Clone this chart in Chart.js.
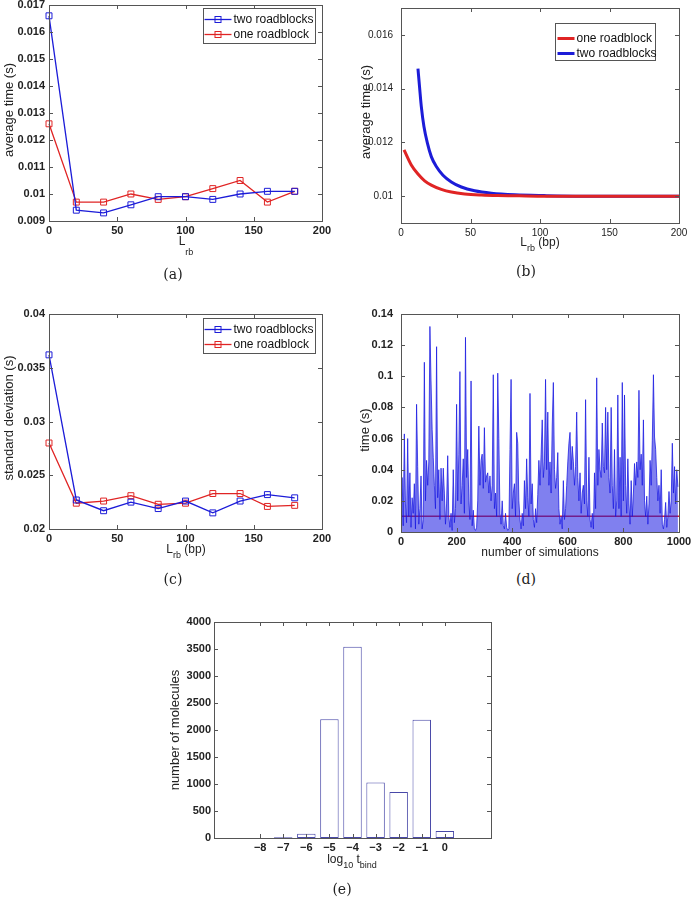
<!DOCTYPE html>
<html>
<head>
<meta charset="utf-8">
<script src="https://cdn.jsdelivr.net/npm/chart.js@4.4.0/dist/chart.umd.min.js"></script>
<style>
  body { margin: 0; background: #fff; width: 692px; height: 898px; position: relative; overflow: hidden;
         font-family: "Liberation Sans", Arial, sans-serif; }
  .panel { position: absolute; }
  .lbl { position: absolute; transform: translate(-50%, -50%); white-space: nowrap; font-size: 12px; line-height: 1; color: #222; }
  .lbl.v { transform: translate(-50%, -50%) rotate(-90deg); font-size: 13px; }
  .lbl sub { font-size: 9px; vertical-align: -5px; line-height: 0; }
  .cap { position: absolute; transform: translate(-50%, -50%); font-family: "DejaVu Serif", serif; font-size: 14px; color: #222; }
</style>
</head>
<body>

<div class="panel" style="left:0px;top:-15px;width:340px;height:268px"><canvas id="chartA"></canvas></div>
<div class="panel" style="left:350px;top:-12px;width:350px;height:265px"><canvas id="chartB"></canvas></div>
<div class="panel" style="left:0px;top:294px;width:340px;height:268px"><canvas id="chartC"></canvas></div>
<div class="panel" style="left:350px;top:294px;width:350px;height:268px"><canvas id="chartD"></canvas></div>
<div class="panel" style="left:160px;top:602px;width:345px;height:268px"><canvas id="chartE"></canvas></div>

<!-- axis titles -->
<div class="lbl v" style="left:8px;top:110px">average time (s)</div>
<div class="lbl" style="left:186px;top:243px">L<sub style="vertical-align:-10px">rb</sub></div>

<div class="lbl v" style="left:365px;top:112px">average time (s)</div>
<div class="lbl" style="left:540px;top:242px">L<sub>rb</sub> (bp)</div>

<div class="lbl v" style="left:8px;top:418px">standard deviation (s)</div>
<div class="lbl" style="left:186px;top:549px">L<sub>rb</sub> (bp)</div>

<div class="lbl v" style="left:364px;top:430px">time (s)</div>
<div class="lbl" style="left:540px;top:552px">number of simulations</div>

<div class="lbl v" style="left:174px;top:730px">number of molecules</div>
<div class="lbl" style="left:352px;top:859px">log<sub>10</sub> t<sub>bind</sub></div>

<!-- captions -->
<div class="cap" style="left:173px;top:274px">(a)</div>
<div class="cap" style="left:526px;top:271px">(b)</div>
<div class="cap" style="left:173px;top:579px">(c)</div>
<div class="cap" style="left:526px;top:579px">(d)</div>
<div class="cap" style="left:342px;top:889px">(e)</div>

<script>
const boxColor = '#555';
const blue = '#1c1cd8';
const red = '#e02424';

// (a) average time, simulated, against roadblock length
const aLengths = [0, 20, 40, 60, 80, 100, 120, 140, 160, 180];
const aTwo = [0.0166, 0.0094, 0.0093, 0.0096, 0.0099, 0.0099, 0.0098, 0.0100, 0.0101, 0.0101];
const aOne = [0.0126, 0.0097, 0.0097, 0.0100, 0.0098, 0.0099, 0.0102, 0.0105, 0.0097, 0.0101];
const aTicksX = [0, 50, 100, 150, 200];
const aTicksY = [0.009, 0.01, 0.011, 0.012, 0.013, 0.014, 0.015, 0.016, 0.017];

// (b) average time, analytic curves
const bOneX = [2.2, 7.4, 12.2, 17, 21.8, 29, 36.2, 45.8, 57.8, 69.8, 85, 100, 130, 160, 200];
const bOneY = [0.01172, 0.01116, 0.01082, 0.01057, 0.01041, 0.01025, 0.01015, 0.01008, 0.01004, 0.01002, 0.01001, 0.0100, 0.0100, 0.0100, 0.0100];
const bTwoX = [12.2, 13.4, 14.6, 16.5, 19, 21.8, 25.4, 30.2, 36.2, 43.4, 53, 65, 81.8, 103, 130, 160, 200];
const bTwoY = [0.01474, 0.01403, 0.01334, 0.01259, 0.01197, 0.01147, 0.01110, 0.01078, 0.01053, 0.01034, 0.01020, 0.01011, 0.01005, 0.01002, 0.0100, 0.0100, 0.0100];
const bTicksX = [0, 50, 100, 150, 200];
const bTicksY = [0.01, 0.012, 0.014, 0.016];

// (c) standard deviation against roadblock length
const cLengths = [0, 20, 40, 60, 80, 100, 120, 140, 160, 180];
const cTwo = [0.0362, 0.0227, 0.0217, 0.0225, 0.0219, 0.0226, 0.0215, 0.0226, 0.0232, 0.0229];
const cOne = [0.0280, 0.0224, 0.0226, 0.0231, 0.0223, 0.0224, 0.0233, 0.0233, 0.0221, 0.0222];
const cTicksX = [0, 50, 100, 150, 200];
const cTicksY = [0.02, 0.025, 0.03, 0.035, 0.04];

// (d) time of each simulation, one value per 4 simulations
const dStep = 4;
const dTimes = [
  0.012, 0.035, 0.004, 0.063, 0.018, 0.006, 0.060, 0.010, 0.038, 0.003, 0.022, 0.012, 0.031, 0.002, 0.082, 0.042, 0.005, 0.015, 0.036, 0.002, 0.008, 0.109, 0.020, 0.046, 0.030,
  0.045, 0.132, 0.097, 0.066, 0.048, 0.030, 0.015, 0.119, 0.022, 0.040, 0.008, 0.041, 0.020, 0.041, 0.025, 0.005, 0.018, 0.049, 0.010, 0.003, 0.012, 0.001, 0.040, 0.006, 0.015,
  0.082, 0.020, 0.050, 0.103, 0.018, 0.030, 0.047, 0.012, 0.125, 0.035, 0.053, 0.020, 0.008, 0.097, 0.004, 0.014, 0.002, 0.001, 0.003, 0.020, 0.068, 0.030, 0.046, 0.050, 0.028,
  0.067, 0.032, 0.036, 0.038, 0.025, 0.036, 0.020, 0.030, 0.101, 0.015, 0.025, 0.010, 0.102, 0.060, 0.012, 0.005, 0.020, 0.004, 0.002, 0.012, 0.003, 0.001, 0.002, 0.053, 0.098,
  0.015, 0.025, 0.031, 0.010, 0.064, 0.057, 0.020, 0.008, 0.002, 0.012, 0.004, 0.033, 0.015, 0.047, 0.022, 0.010, 0.089, 0.018, 0.031, 0.008, 0.003, 0.015, 0.006, 0.024, 0.046,
  0.030, 0.050, 0.072, 0.035, 0.045, 0.098, 0.040, 0.077, 0.030, 0.045, 0.025, 0.068, 0.096, 0.040, 0.028, 0.035, 0.051, 0.015, 0.005, 0.010, 0.002, 0.033, 0.008, 0.015, 0.030,
  0.045, 0.057, 0.064, 0.040, 0.055, 0.045, 0.030, 0.042, 0.077, 0.035, 0.020, 0.038, 0.012, 0.025, 0.030, 0.018, 0.085, 0.020, 0.010, 0.048, 0.008, 0.003, 0.012, 0.002, 0.038,
  0.015, 0.099, 0.030, 0.053, 0.040, 0.035, 0.070, 0.042, 0.038, 0.080, 0.040, 0.077, 0.035, 0.025, 0.080, 0.030, 0.015, 0.053, 0.010, 0.020, 0.088, 0.015, 0.048, 0.010, 0.096,
  0.020, 0.088, 0.030, 0.012, 0.047, 0.018, 0.005, 0.033, 0.010, 0.025, 0.044, 0.030, 0.045, 0.035, 0.091, 0.040, 0.050, 0.030, 0.072, 0.020, 0.010, 0.023, 0.005, 0.018, 0.046,
  0.030, 0.059, 0.101, 0.061, 0.053, 0.035, 0.020, 0.030, 0.012, 0.040, 0.005, 0.002, 0.008, 0.019, 0.003, 0.010, 0.026, 0.012, 0.020, 0.057, 0.025, 0.042, 0.018, 0.040, 0.029
];
const dMean = 0.0101;
const dSimRange = [0, 1000];
const dTicksX = [0, 200, 400, 600, 800, 1000];
const dTicksY = [0, 0.02, 0.04, 0.06, 0.08, 0.1, 0.12, 0.14];

// (e) histogram of binding times
const eBins = [-8, -7, -6, -5, -4, -3, -2, -1, 0];
const eCounts = [0, 15, 80, 2200, 3540, 1030, 850, 2190, 130];
const eTicksX = [-8, -7, -6, -5, -4, -3, -2, -1, 0];
const eTicksY = [0, 500, 1000, 1500, 2000, 2500, 3000, 3500, 4000];

Chart.defaults.font.family = '"Liberation Sans", Arial, sans-serif';
Chart.defaults.font.size = 11;
Chart.defaults.font.weight = 'bold';
Chart.defaults.color = '#222';

// MATLAB style box with inward ticks on all four sides
const matlabBox = {
    id: 'matlabBox',
    afterDatasetsDraw(chart) {
        const { ctx, chartArea: a, scales: { x, y } } = chart;
        const len = 4;
        ctx.save();
        ctx.strokeStyle = boxColor;
        ctx.lineWidth = 1;
        ctx.beginPath();
        x.ticks.forEach(t => {
            const px = Math.round(x.getPixelForValue(t.value)) + 0.5;
            ctx.moveTo(px, a.bottom); ctx.lineTo(px, a.bottom - len);
            ctx.moveTo(px, a.top); ctx.lineTo(px, a.top + len);
        });
        y.ticks.forEach(t => {
            const py = Math.round(y.getPixelForValue(t.value)) + 0.5;
            ctx.moveTo(a.left, py); ctx.lineTo(a.left + len, py);
            ctx.moveTo(a.right, py); ctx.lineTo(a.right - len, py);
        });
        ctx.stroke();
        ctx.strokeRect(Math.round(a.left) + 0.5, Math.round(a.top) + 0.5,
                       Math.round(a.right - a.left), Math.round(a.bottom - a.top));
        ctx.restore();
    }
};

// legend drawn inside the axes, top right
const boxLegend = {
    id: 'boxLegend',
    afterDraw(chart, args, opts) {
        if (!opts.items) return;
        const { ctx, chartArea: a } = chart;
        const left = Math.round(a.right - opts.right - opts.width) + 0.5;
        const top = Math.round(a.top + opts.top) + 0.5;
        ctx.save();
        ctx.fillStyle = '#fff';
        ctx.fillRect(left, top, opts.width, opts.height);
        ctx.strokeStyle = boxColor;
        ctx.lineWidth = 1;
        ctx.strokeRect(left, top, opts.width, opts.height);
        ctx.font = '12px "Liberation Sans", Arial, sans-serif';
        ctx.textBaseline = 'middle';
        opts.items.forEach((it, i) => {
            const cy = top + opts.firstRow + i * opts.rowGap;
            ctx.strokeStyle = it.color;
            ctx.lineWidth = it.width;
            ctx.beginPath();
            ctx.moveTo(left + opts.lineFrom, cy);
            ctx.lineTo(left + opts.lineTo, cy);
            ctx.stroke();
            if (it.marker) {
                const mx = left + (opts.lineFrom + opts.lineTo) / 2;
                ctx.lineWidth = 1;
                ctx.strokeRect(mx - 3, cy - 3, 6, 6);
            }
            ctx.fillStyle = '#111';
            ctx.fillText(it.text, left + opts.textX, cy);
        });
        ctx.restore();
    }
};

function fmt(v) {
    return v < 0 ? '\u2212' + (-v) : String(v);
}

function axes(p) {
    const tickFont = p.tickFont || {};
    return {
        responsive: true,
        maintainAspectRatio: false,
        animation: false,
        events: [],
        layout: { padding: { top: p.padTop, right: p.padRight, left: 0, bottom: 0 } },
        plugins: {
            legend: { display: false },
            tooltip: { enabled: false },
            boxLegend: p.legend || {}
        },
        scales: {
            x: {
                type: 'linear', min: p.xMin, max: p.xMax, offset: false,
                afterBuildTicks: s => { s.ticks = p.xTicks.map(v => ({ value: v })); },
                afterFit: s => { s.height = p.xHeight; },
                grid: { display: false, drawTicks: false }, border: { display: false },
                ticks: { padding: p.xPad, autoSkip: false, maxRotation: 0, callback: fmt, font: tickFont }
            },
            y: {
                type: 'linear', min: p.yMin, max: p.yMax,
                afterBuildTicks: s => { s.ticks = p.yTicks.map(v => ({ value: v })); },
                afterFit: s => { s.width = p.yWidth; },
                grid: { display: false, drawTicks: false }, border: { display: false },
                ticks: { padding: p.yPad, autoSkip: false, callback: fmt, font: tickFont }
            }
        }
    };
}

function markerLine(label, xs, ys, color) {
    return {
        label: label,
        data: xs.map((x, i) => ({ x: x, y: ys[i] })),
        borderColor: color, borderWidth: 1.3,
        pointStyle: 'rect', pointRadius: 4.2,
        pointBorderColor: color, pointBackgroundColor: 'rgba(0,0,0,0)', pointBorderWidth: 1,
        tension: 0, clip: false
    };
}

const markerLegend = {
    width: 112, height: 35, right: 7, top: 3, firstRow: 11, rowGap: 15,
    lineFrom: 1, lineTo: 28, textX: 30,
    items: [
        { text: 'two roadblocks', color: blue, width: 1.3, marker: true },
        { text: 'one roadblock', color: red, width: 1.3, marker: true }
    ]
};

new Chart(document.getElementById('chartA'), {
    type: 'line',
    data: { datasets: [markerLine('two roadblocks', aLengths, aTwo, blue), markerLine('one roadblock', aLengths, aOne, red)] },
    options: axes({ padTop: 20, padRight: 18, yWidth: 49, xHeight: 32, xPad: 3, yPad: 4,
                    xMin: 0, xMax: 200, yMin: 0.009, yMax: 0.017, xTicks: aTicksX, yTicks: aTicksY,
                    legend: markerLegend }),
    plugins: [matlabBox, boxLegend]
});

new Chart(document.getElementById('chartB'), {
    type: 'line',
    data: {
        datasets: [
            { label: 'one roadblock', data: bOneX.map((x, i) => ({ x: x, y: bOneY[i] })),
              borderColor: red, borderWidth: 3, pointRadius: 0, cubicInterpolationMode: 'monotone' },
            { label: 'two roadblocks', data: bTwoX.map((x, i) => ({ x: x, y: bTwoY[i] })),
              borderColor: blue, borderWidth: 3, pointRadius: 0, cubicInterpolationMode: 'monotone' }
        ]
    },
    options: axes({ padTop: 20, padRight: 21, yWidth: 51, xHeight: 30, xPad: 4, yPad: 8,
                    tickFont: { size: 10, weight: 'normal' },
                    xMin: 0, xMax: 200, yMin: 0.009, yMax: 0.017, xTicks: bTicksX, yTicks: bTicksY,
                    legend: { width: 100, height: 37, right: 24, top: 15, firstRow: 15, rowGap: 15,
                              lineFrom: 2, lineTo: 19, textX: 21,
                              items: [
                                  { text: 'one roadblock', color: red, width: 3 },
                                  { text: 'two roadblocks', color: blue, width: 3 }
                              ] } }),
    plugins: [matlabBox, boxLegend]
});

new Chart(document.getElementById('chartC'), {
    type: 'line',
    data: { datasets: [markerLine('two roadblocks', cLengths, cTwo, blue), markerLine('one roadblock', cLengths, cOne, red)] },
    options: axes({ padTop: 20, padRight: 18, yWidth: 49, xHeight: 33, xPad: 3, yPad: 4,
                    xMin: 0, xMax: 200, yMin: 0.02, yMax: 0.04, xTicks: cTicksX, yTicks: cTicksY,
                    legend: Object.assign({}, markerLegend, { top: 4 }) }),
    plugins: [matlabBox, boxLegend]
});

new Chart(document.getElementById('chartD'), {
    type: 'line',
    data: {
        datasets: [
            { label: 'time', data: dTimes.map((t, i) => ({ x: i * dStep, y: t })),
              borderColor: 'rgba(24,24,225,0.75)', borderWidth: 1, pointRadius: 0, tension: 0,
              fill: 'origin', backgroundColor: 'rgba(24,24,225,0.55)' },
            { label: 'mean', data: dSimRange.map(x => ({ x: x, y: dMean })),
              borderColor: red, borderWidth: 1.5, pointRadius: 0 }
        ]
    },
    options: axes({ padTop: 20, padRight: 21, yWidth: 51, xHeight: 30, xPad: 3, yPad: 8,
                    xMin: 0, xMax: 1000, yMin: 0, yMax: 0.14, xTicks: dTicksX, yTicks: dTicksY }),
    plugins: [matlabBox]
});

const eOpts = axes({ padTop: 20, padRight: 14, yWidth: 54, xHeight: 32, xPad: 3, yPad: 3,
                     xMin: -10, xMax: 2, yMin: 0, yMax: 4000, xTicks: eTicksX, yTicks: eTicksY });
new Chart(document.getElementById('chartE'), {
    type: 'bar',
    data: {
        datasets: [{
            label: 'number of molecules',
            data: eBins.map((b, i) => ({ x: b, y: eCounts[i] })),
            backgroundColor: '#fff', borderColor: '#4848a8', borderWidth: 1, borderSkipped: false,
            barPercentage: 1, categoryPercentage: 0.8
        }]
    },
    options: eOpts,
    plugins: [matlabBox]
});
</script>
</body>
</html>
